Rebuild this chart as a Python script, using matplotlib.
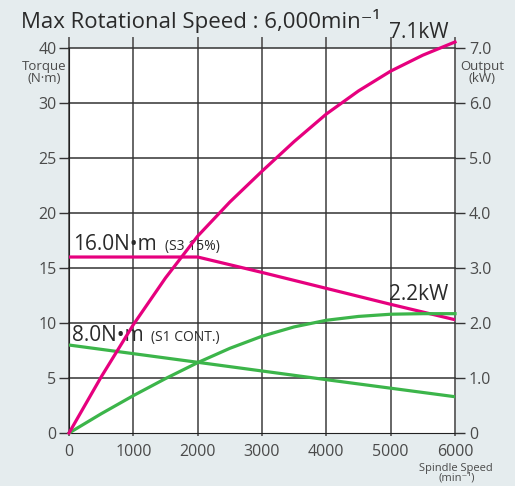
import matplotlib.pyplot as plt
import numpy as np

plt.rcParams['font.family'] = ['Open Sans', 'DejaVu Sans']

# spindle speed (min-1)
speed = [0, 500, 1000, 1500, 2000, 2500, 3000, 3500, 4000, 4500, 5000, 5500, 6000]
# output curves (kW)
out_s3 = [0, 1.02, 1.97, 2.82, 3.58, 4.2, 4.76, 5.3, 5.8, 6.22, 6.58, 6.87, 7.11]
out_s1 = [0, 0.35, 0.68, 0.99, 1.28, 1.54, 1.76, 1.93, 2.05, 2.12, 2.16, 2.17, 2.17]
# torque curves (N.m)
trq_speed = [0, 2000, 3000, 4000, 5000, 6000]
trq_s3 = [16.0, 16.0, 14.6, 13.15, 11.7, 10.3]
trq_s1_speed = [0, 2000, 4000, 6000]
trq_s1 = [8.0, 6.43, 4.85, 3.3]

x_ticks = [0, 1000, 2000, 3000, 4000, 5000, 6000]
trq_ticks = [0, 5, 10, 15, 20, 25, 30, 35]
trq_labels = ['0', '5', '10', '15', '20', '25', '30', '40']
out_ticks = [0, 1, 2, 3, 4, 5, 6, 7]
out_labels = ['0', '1.0', '2.0', '3.0', '4.0', '5.0', '6.0', '7.0']

pink = '#e6007e'
green = '#3cb54a'
bg = '#e5ecee'
grid_c = '#666666'
txt_c = '#4a4a4a'
dark = '#2a2a2a'

fig = plt.figure(figsize=[5.15, 4.86], dpi=100, facecolor=bg)
ax = fig.add_axes([0.134, 0.109, 0.7495, 0.7922])
ax.set_facecolor('white')
ax.set_xlim(0, 6000)
ax.set_ylim(0, 35)

for x in x_ticks:
    ax.axvline(x, ymin=-0.006, ymax=1.027, color=grid_c, lw=1.4, clip_on=False, zorder=1)
for y in trq_ticks[1:]:
    ax.axhline(y, color='#333333', lw=1.1, clip_on=False, zorder=1)

for s in ['top', 'right']:
    ax.spines[s].set_visible(False)
ax.spines['left'].set_color('#222222')
ax.spines['bottom'].set_color('#222222')

ax.set_xticks(x_ticks)
ax.set_xticklabels([str(v) for v in x_ticks])
ax.set_yticks(trq_ticks)
ax.set_yticklabels(trq_labels)
ax.tick_params(axis='x', length=0, pad=8, labelsize=11.5, labelcolor=txt_c)
ax.tick_params(axis='y', direction='out', length=7.5, width=1, color='#333333',
               pad=1.5, labelsize=11.5, labelcolor=txt_c)

ax2 = ax.twinx()
ax2.set_ylim(0, 7)
ax2.set_yticks(out_ticks)
ax2.set_yticklabels(out_labels)
ax2.tick_params(axis='y', direction='out', length=7.5, width=1, color='#333333',
                pad=2.5, labelsize=11.5, labelcolor=txt_c)
for s in ['top', 'left', 'bottom', 'right']:
    ax2.spines[s].set_visible(False)

# output curves on the kW scale
ax2.plot(speed, out_s3, c=pink, lw=2.3, clip_on=False, zorder=4)
ax2.plot(speed, out_s1, c=green, lw=2.3, clip_on=False, zorder=3)
# torque curves on the N.m scale
ax.plot(trq_speed, trq_s3, c=pink, lw=2.3, zorder=4)
ax.plot(trq_s1_speed, trq_s1, c=green, lw=2.3, zorder=3)

ax.text(70, 16.6, '16.0N•m', fontsize=15, color=dark, va='baseline', zorder=5)
ax.text(1490, 16.6, '(S3 15%)', fontsize=10, color=dark, va='baseline', zorder=5)
ax.text(50, 8.4, '8.0N•m', fontsize=15, color=dark, va='baseline', zorder=5)
ax.text(1280, 8.4, '(S1 CONT.)', fontsize=10, color=dark, va='baseline', zorder=5)
ax.text(5900, 35.95, '7.1kW', fontsize=15, color=dark, ha='right', va='baseline', zorder=5)
ax.text(5900, 12.06, '2.2kW', fontsize=15, color=dark, ha='right', va='baseline', zorder=5)

fig.text(0.041, 0.942, 'Max Rotational Speed : 6,000min⁻¹', fontsize=16, color=dark,
         va='baseline', ha='left')
fig.text(0.130, 0.850, 'Torque\n(N·m)', fontsize=9.5, color=txt_c, ha='right', va='center',
         linespacing=0.9, multialignment='center')
fig.text(0.894, 0.850, 'Output\n(kW)', fontsize=9.5, color=txt_c, ha='left', va='center',
         linespacing=0.9, multialignment='center')
fig.text(0.886, 0.026, 'Spindle Speed\n(min⁻¹)', fontsize=8, color=txt_c, ha='center', va='center',
         linespacing=0.9)

fig.savefig('out.png', dpi=100, facecolor=bg)
